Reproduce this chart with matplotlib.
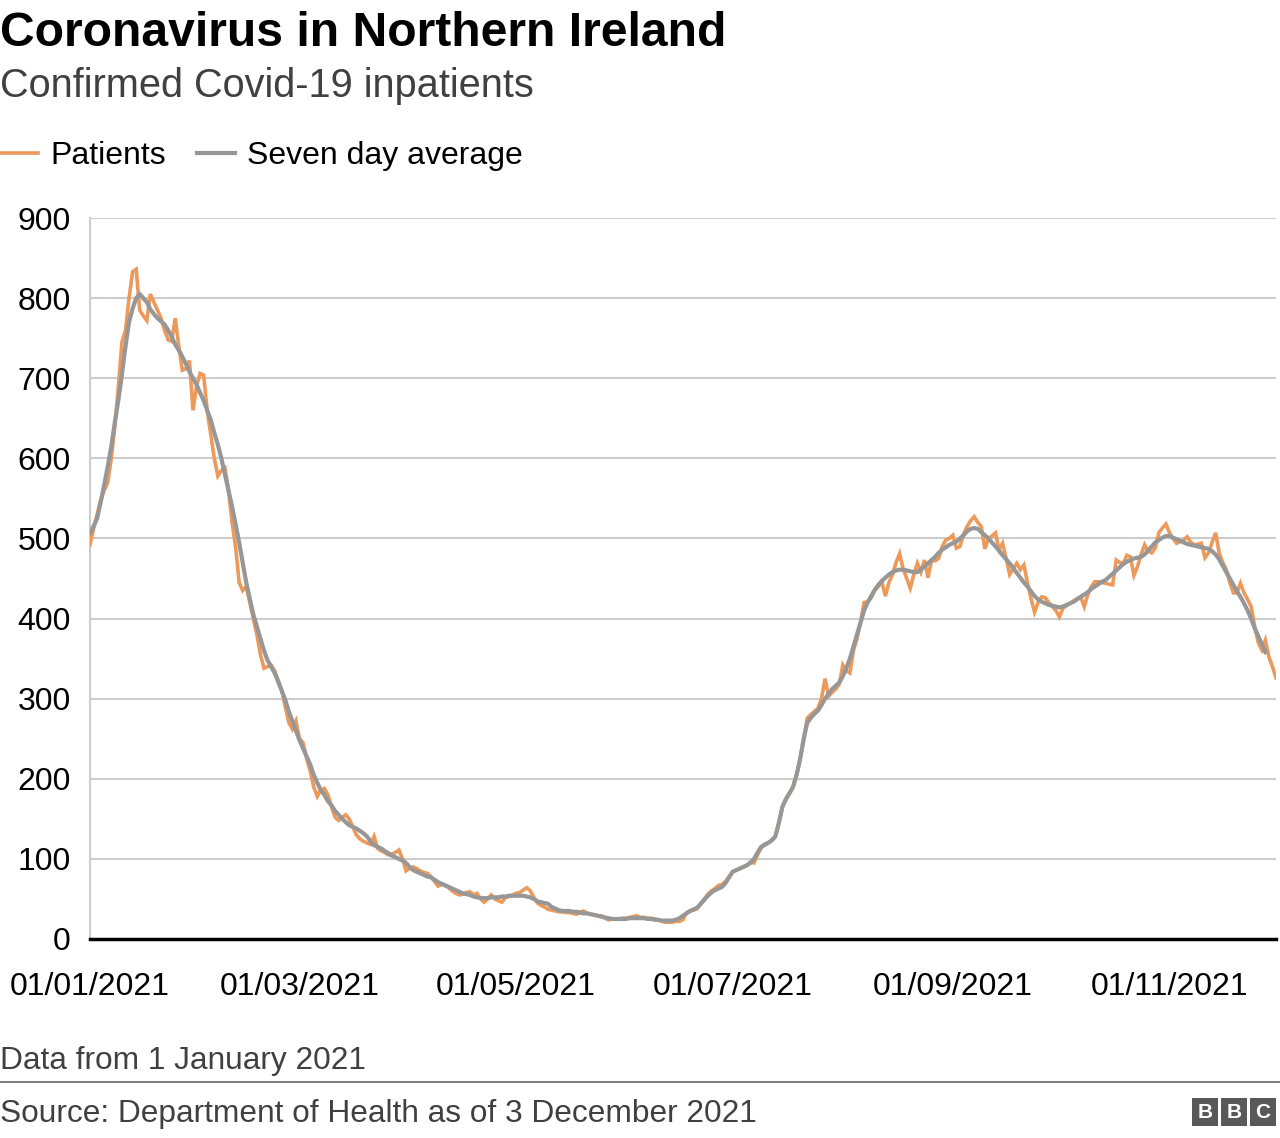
import numpy as np
import pandas as pd
import matplotlib as mpl
import matplotlib.pyplot as plt
import matplotlib.dates as mdates
from matplotlib.patches import Rectangle

mpl.use('Agg')
plt.rcParams['font.family'] = ['Liberation Sans', 'DejaVu Sans']

# ---------------------------------------------------------------
# data (daily, starting 1 Jan 2021)
# ---------------------------------------------------------------
START = '2021-01-01'

patients = [
    492, 512, 530, 548, 560, 570, 600, 640, 690, 745, 760, 800, 833, 836, 785,
    778, 772, 805, 795, 785, 775, 760, 748, 746, 775, 740, 710, 712, 722, 660,
    690, 706, 704, 660, 630, 600, 578, 585, 588, 560, 520, 490, 445, 435, 440,
    420, 400, 380, 355, 338, 340, 342, 335, 320, 310, 290, 270, 262, 272, 250,
    245, 225, 210, 190, 178, 186, 188, 180, 165, 152, 148, 152, 155, 150, 140,
    130, 125, 122, 120, 118, 128, 113, 110, 108, 105, 106, 108, 111, 100, 85,
    88, 90, 88, 85, 83, 82, 78, 72, 66, 68, 67, 64, 60, 57, 55,
    56, 58, 59, 55, 57, 50, 46, 50, 55, 50, 48, 46, 52, 53, 55,
    57, 58, 61, 64, 60, 52, 45, 42, 40, 37, 36, 35, 34, 34, 33,
    33, 32, 31, 33, 35, 32, 31, 30, 29, 29, 26, 24, 25, 25, 25,
    26, 26, 27, 28, 29, 27, 27, 26, 26, 25, 24, 22, 21, 21, 21,
    22, 22, 24, 33, 35, 36, 38, 44, 50, 56, 60, 63, 67, 68, 72,
    78, 84, 86, 88, 90, 92, 96, 95, 105, 114, 117, 120, 124, 128, 145,
    165, 174, 182, 190, 205, 225, 250, 276, 280, 284, 288, 300, 325, 303, 308,
    312, 318, 342, 335, 332, 360, 375, 395, 420, 421, 426, 435, 440, 446, 428,
    445, 455, 470, 481, 462, 450, 438, 455, 469, 458, 473, 451, 473, 472, 475,
    490, 498, 500, 504, 488, 490, 505, 515, 522, 527, 520, 515, 487, 500, 503,
    507, 486, 494, 475, 455, 462, 469, 461, 467, 445, 425, 408, 420, 427, 426,
    420, 415, 410, 402, 413, 416, 419, 422, 425, 427, 415, 430, 440, 446, 446,
    445, 444, 443, 442, 473, 470, 469, 479, 477, 454, 465, 480, 492, 484, 482,
    488, 507, 513, 518, 507, 500, 494, 496, 498, 502, 495, 492, 493, 494, 476,
    482, 495, 507, 482, 470, 461, 445, 432, 432, 444, 432, 424, 415, 390, 370,
    361, 373, 352, 340, 326,
]

seven_day_avg = [
    507, 515, 525, 545, 567, 590, 615, 645, 673, 705, 740, 770, 787, 800, 805,
    800, 795, 786, 780, 775, 771, 767, 760, 752, 742, 735, 727, 718, 708, 700,
    692, 682, 672, 660, 648, 632, 617, 600, 580, 560, 540, 518, 495, 470, 445,
    425, 405, 390, 375, 360, 348, 340, 332, 322, 310, 298, 284, 272, 260, 248,
    238, 228, 218, 205, 195, 186, 180, 172, 167, 160, 155, 150, 146, 142, 140,
    138, 135, 132, 128, 122, 117, 115, 113, 110, 107, 104, 102, 100, 98, 95,
    90, 86, 84, 82, 80, 78, 77, 74, 71, 69, 67, 65, 63, 61, 59,
    57, 56, 55, 53, 52, 51, 51, 51, 52, 52, 52, 53, 53, 54, 54,
    54, 54, 54, 53, 52, 50, 47, 46, 45, 44, 40, 38, 36, 35, 35,
    35, 34, 34, 33, 32, 32, 31, 30, 29, 28, 27, 26, 25, 25, 25,
    25, 25, 26, 26, 26, 26, 26, 25, 25, 24, 24, 23, 23, 23, 23,
    24, 26, 29, 32, 35, 37, 39, 44, 49, 54, 58, 61, 63, 65, 70,
    77, 84, 86, 88, 90, 92, 95, 100, 108, 115, 118, 120, 123, 128, 145,
    165, 175, 182, 190, 205, 225, 250, 270, 276, 281, 285, 292, 300, 306, 312,
    316, 320, 328, 338, 350, 365, 380, 395, 410, 420, 428, 436, 442, 447, 451,
    455, 458, 460, 461, 461, 460, 459, 458, 458, 461, 465, 469, 473, 477, 482,
    486, 489, 492, 494, 496, 500, 504, 509, 512, 513, 512, 508, 504, 500, 495,
    490, 485, 479, 474, 469, 463, 457, 451, 445, 440, 434, 428, 424, 421, 419,
    417, 416, 415, 414, 415, 417, 419, 421, 424, 427, 430, 433, 437, 440, 443,
    446, 448, 452, 456, 460, 464, 468, 471, 473, 475, 476, 477, 480, 485, 490,
    495, 498, 501, 503, 503, 501, 499, 497, 495, 493, 492, 491, 490, 489, 488,
    487, 484, 480, 474, 466, 458, 450, 442, 434, 427, 419, 410, 400, 388, 378,
    368, 358,
]

x_ticks = ['2021-01-01', '2021-03-01', '2021-05-01', '2021-07-01', '2021-09-01', '2021-11-01']
y_ticks = [0, 100, 200, 300, 400, 500, 600, 700, 800, 900]

ORANGE = '#ED995A'
GREY = '#979797'
DARK = '#404040'

# ---------------------------------------------------------------
W, H = 1280, 1138
fig = plt.figure(figsize=(W / 100, H / 100), dpi=100)

def fx(px):
    return px / W

def fy(py):
    return 1 - py / H

ax = fig.add_axes([fx(90), fy(939), fx(1276) - fx(90), fy(218) - fy(939)])

p_dates = pd.date_range(START, periods=len(patients), freq='D')
a_dates = pd.date_range(START, periods=len(seven_day_avg), freq='D')

ax.plot(p_dates, patients, color=ORANGE, lw=2.6, solid_joinstyle='miter', zorder=3)
ax.plot(a_dates, seven_day_avg, color=GREY, lw=3.0, zorder=4)

ax.set_xlim(pd.Timestamp('2021-01-01'), pd.Timestamp('2021-12-01'))
ax.set_ylim(0, 900)
ax.set_yticks(y_ticks)
ax.set_xticks(pd.to_datetime(x_ticks))
ax.xaxis.set_major_formatter(mdates.DateFormatter('%d/%m/%Y'))
ax.grid(axis='y', color='#cccccc', lw=1.5)
ax.set_axisbelow(True)
ax.tick_params(length=0, labelsize=23, colors='black')
ax.tick_params(axis='y', pad=14)
ax.tick_params(axis='x', pad=24)

for s in ['top', 'right']:
    ax.spines[s].set_visible(False)
ax.spines['left'].set_color('#cccccc')
ax.spines['left'].set_linewidth(1.5)
ax.spines['bottom'].set_color('black')
ax.spines['bottom'].set_linewidth(2.5)
ax.spines['bottom'].set_zorder(5)

# ---------------------------------------------------------------
# header
fig.text(0, fy(33), 'Coronavirus in Northern Ireland', fontsize=34.6, fontweight='bold',
         va='center', ha='left')
fig.text(0, fy(86), 'Confirmed Covid-19 inpatients', fontsize=28.6, color=DARK,
         va='center', ha='left')

# legend
fig.add_artist(plt.Line2D([fx(0), fx(38)], [fy(153), fy(153)], color=ORANGE, lw=2.6))
fig.text(fx(50), fy(156), 'Patients', fontsize=23, va='center', ha='left')
fig.add_artist(plt.Line2D([fx(197), fx(235)], [fy(153), fy(153)], color=GREY, lw=3.0))
fig.text(fx(247), fy(156), 'Seven day average', fontsize=23, va='center', ha='left')

# footer
fig.text(0, fy(1061), 'Data from 1 January 2021', fontsize=22.8, color=DARK,
         va='center', ha='left')
fig.add_artist(plt.Line2D([0, 1], [fy(1082), fy(1082)], color='#7f7f7f', lw=1.5))
fig.text(0, fy(1114), 'Source: Department of Health as of 3 December 2021', fontsize=22.8,
         color=DARK, va='center', ha='left')

# BBC blocks
for i, letter in enumerate('BBC'):
    x0 = 1192 + i * 29
    fig.add_artist(Rectangle((fx(x0), fy(1126)), fx(26), fy(1098) - fy(1126),
                             transform=fig.transFigure, color='#595959', lw=0))
    fig.text(fx(x0 + 13), fy(1112), letter, fontsize=15, fontweight='bold', color='white',
             ha='center', va='center')

plt.savefig('out.png', dpi=100)
